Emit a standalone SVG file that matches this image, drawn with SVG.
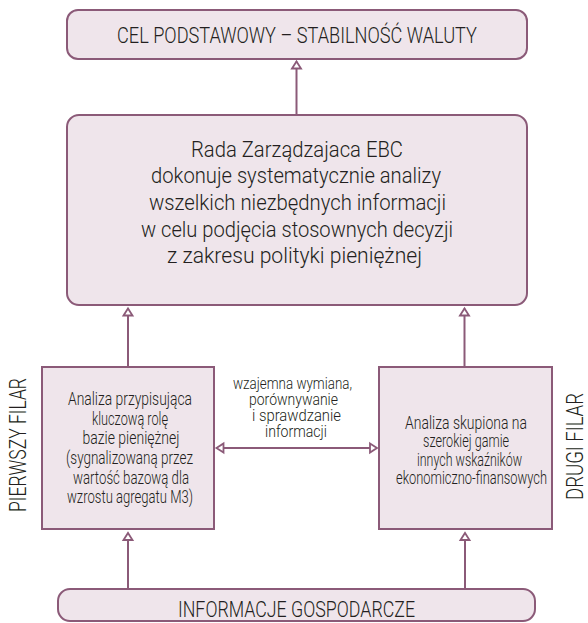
<svg xmlns="http://www.w3.org/2000/svg" width="588" height="623" viewBox="0 0 588 623">
<defs>
<style>
.box{fill:#efe5eb;stroke:#8b5a78;stroke-width:2}
.ln{fill:none;stroke:#8b5a78;stroke-width:2}
text{font-family:Roboto,"Liberation Sans",Arial,sans-serif;font-weight:300;fill:#231f20;text-anchor:middle}
.big{font-size:22px}
.mid{font-size:19px}
.sm{font-size:16.5px}
.side{font-size:23px}
</style>
<marker id="ah" viewBox="0 0 10 10" refX="9" refY="5" markerWidth="10" markerHeight="10" markerUnits="userSpaceOnUse" orient="auto-start-reverse" overflow="visible">
<path d="M2,0.5 L9,5 L2,9.5 Z" fill="#fff" stroke="#8b5a78" stroke-width="1.8" stroke-linejoin="miter"/>
</marker>
</defs>
<rect width="588" height="623" fill="#fff"/>
<g id="connectors">
<line class="ln" x1="296.5" y1="115" x2="296.5" y2="61.5" marker-end="url(#ah)"/>
<line class="ln" x1="128" y1="367" x2="128" y2="308.5" marker-end="url(#ah)"/>
<line class="ln" x1="464.5" y1="367" x2="464.5" y2="308.5" marker-end="url(#ah)"/>
<line class="ln" x1="128" y1="589" x2="128" y2="533" marker-end="url(#ah)"/>
<line class="ln" x1="465" y1="589" x2="465" y2="533" marker-end="url(#ah)"/>
<line class="ln" x1="216.5" y1="448" x2="377" y2="448" marker-start="url(#ah)" marker-end="url(#ah)"/>
</g>
<g id="goal">
<rect class="box" x="67" y="10" width="460" height="49" rx="11"/>
<text class="big" x="297" y="42.5" textLength="360" lengthAdjust="spacingAndGlyphs">CEL PODSTAWOWY – STABILNOŚĆ WALUTY</text>
</g>
<g id="council">
<rect class="box" x="67" y="115" width="460" height="190" rx="12"/>
<text class="big" x="297" y="157" textLength="212" lengthAdjust="spacingAndGlyphs">Rada Zarządzajaca EBC</text>
<text class="big" x="296" y="183.3" textLength="290" lengthAdjust="spacingAndGlyphs">dokonuje systematycznie analizy</text>
<text class="big" x="297.5" y="210" textLength="297" lengthAdjust="spacingAndGlyphs">wszelkich niezbędnych informacji</text>
<text class="big" x="297" y="236.5" textLength="312" lengthAdjust="spacingAndGlyphs">w celu podjęcia stosownych decyzji</text>
<text class="big" x="294.5" y="263" textLength="255" lengthAdjust="spacingAndGlyphs">z zakresu polityki pieniężnej</text>
</g>
<g id="pillar1">
<rect class="box" x="42" y="367" width="172" height="162"/>
<text class="mid" x="130" y="404.5" textLength="124" lengthAdjust="spacingAndGlyphs">Analiza przypisująca</text>
<text class="mid" x="130" y="424.5" textLength="76" lengthAdjust="spacingAndGlyphs">kluczową rolę</text>
<text class="mid" x="131" y="444" textLength="97" lengthAdjust="spacingAndGlyphs">bazie pieniężnej</text>
<text class="mid" x="129.5" y="464" textLength="127" lengthAdjust="spacingAndGlyphs">(sygnalizowaną przez</text>
<text class="mid" x="131" y="483.5" textLength="116" lengthAdjust="spacingAndGlyphs">wartość bazową dla</text>
<text class="mid" x="130" y="503" textLength="126" lengthAdjust="spacingAndGlyphs">wzrostu agregatu M3)</text>
</g>
<g id="pillar2">
<rect class="box" x="379" y="367" width="173" height="162"/>
<text class="mid" x="466" y="428.5" textLength="122" lengthAdjust="spacingAndGlyphs">Analiza skupiona na</text>
<text class="mid" x="466" y="447" textLength="86" lengthAdjust="spacingAndGlyphs">szerokiej gamie</text>
<text class="mid" x="469.5" y="465.5" textLength="105" lengthAdjust="spacingAndGlyphs">innych wskaźników</text>
<text class="mid" x="471.5" y="484" textLength="151" lengthAdjust="spacingAndGlyphs">ekonomiczno-finansowych</text>
</g>
<g id="exchange-label">
<text class="sm" x="292.5" y="389" textLength="119" lengthAdjust="spacingAndGlyphs">wzajemna wymiana,</text>
<text class="sm" x="293.5" y="405" textLength="89" lengthAdjust="spacingAndGlyphs">porównywanie</text>
<text class="sm" x="296.5" y="421" textLength="89" lengthAdjust="spacingAndGlyphs">i sprawdzanie</text>
<text class="sm" x="296" y="437" textLength="62" lengthAdjust="spacingAndGlyphs">informacji</text>
</g>
<g id="label-first">
<text class="side" transform="translate(26,445) rotate(-90)" x="0" y="0" textLength="134" lengthAdjust="spacingAndGlyphs">PIERWSZY FILAR</text>
</g>
<g id="label-second">
<text class="side" transform="translate(582.5,446.5) rotate(-90)" x="0" y="0" textLength="107" lengthAdjust="spacingAndGlyphs">DRUGI FILAR</text>
</g>
<g id="info">
<rect class="box" x="58" y="589" width="477" height="32" rx="12"/>
<text class="big" x="296.5" y="617" textLength="237" lengthAdjust="spacingAndGlyphs">INFORMACJE GOSPODARCZE</text>
</g>
</svg>
